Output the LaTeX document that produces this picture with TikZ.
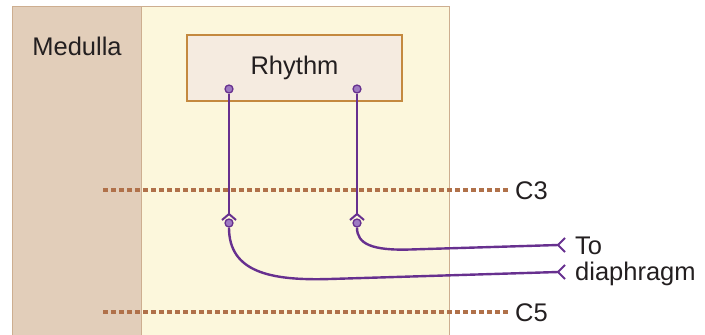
\documentclass[tikz,border=0pt]{standalone}
\usepackage{fontspec}
\setmainfont{Liberation Sans}
\usetikzlibrary{positioning}

\definecolor{medtan}{HTML}{E2CEBA}
\definecolor{cordyel}{HTML}{FCF7DC}
\definecolor{edgetan}{HTML}{CDAE90}
\definecolor{boxfill}{HTML}{F5EBE0}
\definecolor{boxedge}{HTML}{C4893F}
\definecolor{levelbrown}{HTML}{B0714A}
\definecolor{nervepurple}{HTML}{67308F}
\definecolor{dotpurple}{HTML}{9E7AC2}
\definecolor{inktext}{HTML}{231F20}

\begin{document}
\begin{tikzpicture}[
  x=1pt, y=-1pt,
  lbl/.style={font=\fontsize{25.5}{30}\selectfont, text=inktext, inner sep=0pt},
  panel/.style={draw=edgetan, line width=1pt, anchor=north west, inner sep=0pt},
  rhythmbox/.style={draw=boxedge, fill=boxfill, line width=2pt, minimum width=215pt,
                    minimum height=66pt, font=\fontsize{25.5}{30}\selectfont, text=inktext},
  level/.style={draw=levelbrown, line width=4pt, dash pattern=on 4.5pt off 3.5pt},
  nerve/.style={draw=nervepurple, line width=2.4pt},
  syndot/.style={circle, draw=nervepurple, fill=dotpurple, line width=1.3pt,
                 minimum size=8pt, inner sep=0pt},
  chevup/.pic={\draw[nerve, line width=2pt] (-7,6) -- (0,0) -- (7,6);},
  chevleft/.pic={\draw[nerve, line width=2pt] (7,-7) -- (0,0) -- (7,7);}
]
  \useasboundingbox (0,0) rectangle (705,335);
  % background panels
  \node[panel, fill=medtan, minimum width=129pt, minimum height=340pt] (medulla) at (12,6) {};
  \node[panel, fill=cordyel, minimum width=308pt, minimum height=340pt] (cord) at (141,6) {};
  \node[lbl] (medlabel) at (77,46) {Medulla};

  \node[rhythmbox] (rhythm) at (294.5,68) {Rhythm};

  % cervical levels
  \coordinate (c3a) at (103,190);
  \coordinate (c3b) at (509,190);
  \coordinate (c5a) at (103,312);
  \coordinate (c5b) at (509,312);
  \draw[level] (c3a) -- (c3b);
  \draw[level] (c5a) -- (c5b);
  \node[lbl, anchor=west] (c3) at (515,191) {C3};
  \node[lbl, anchor=west] (c5) at (515,313) {C5};

  % nerve paths
  \node[syndot] (out1) at (229,89) {};
  \node[syndot] (out2) at (357,89) {};
  \coordinate (syn1) at (229,214);
  \coordinate (syn2) at (357,214);
  \node[syndot] (in1) at (229,223) {};
  \node[syndot] (in2) at (357,223) {};
  \coordinate (end1) at (558,272);
  \coordinate (end2) at (558,245);

  \draw[nerve] (out1) -- (syn1);
  \draw[nerve] (out2) -- (syn2);
  \pic at (syn1) {chevup};
  \pic at (syn2) {chevup};
  \draw[nerve] (in1) .. controls (229,272) and (270,280.8) .. (330,279) -- (end1);
  \draw[nerve] (in2) .. controls (357,244) and (372,250.6) .. (410,249.5) -- (end2);
  \pic at (end1) {chevleft};
  \pic at (end2) {chevleft};

  \node[lbl, anchor=west] (tolabel) at (575,246) {To};
  \node[lbl, anchor=west] (diaph) at (575,274) {diaphragm};
\end{tikzpicture}
\end{document}
